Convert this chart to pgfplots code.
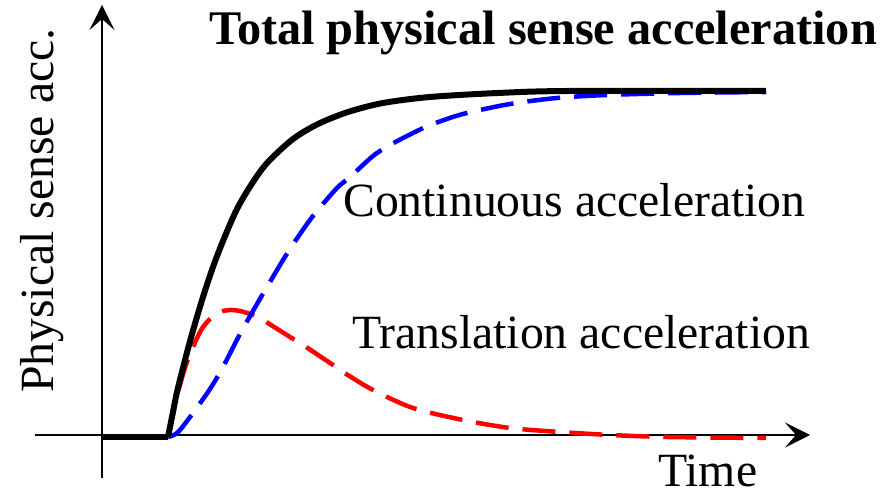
\documentclass[border=0pt]{standalone}
\usepackage{pgfplots}
\pgfplotsset{compat=1.18}
\usepackage{fontspec}
\setmainfont{Liberation Serif}
\usetikzlibrary{arrows.meta}
\begin{document}
\begin{tikzpicture}
\fontsize{47.7bp}{57bp}\selectfont
\begin{axis}[
  x=1bp, y=1bp,
  xmin=-67, xmax=708, ymin=-43, ymax=430,
  axis lines=middle,
  xtick=\empty, ytick=\empty,
  axis line style={line width=2bp, -{Stealth[length=25bp,width=25bp,inset=11bp]}},
  clip=false,
]
% Translation acceleration (red)
\addplot[red, line width=4.5bp, dash pattern=on 33bp off 14bp, smooth, tension=0.5] coordinates {
(66,-2) (71,22) (76,43) (85,73) (98,103) (108,116) (118,123) (128,125) (138,124) (151,120)
(161,115) (188,98) (201,90) (231,70) (241,63) (271,45) (311,27) (361,15) (408,7) (458,3)
(508,0) (566,-2) (664,-3)
};
% Continuous acceleration (blue)
\addplot[blue, line width=4.5bp, dash pattern=on 33bp off 14bp, smooth, tension=0.5] coordinates {
(66,-2) (72,0) (78,5) (91,22) (108,46) (121,68) (138,101) (155,131) (165,148) (186,183)
(205,211) (215,224) (235,247) (248,258) (271,279) (288,290) (315,304) (331,311) (361,321)
(408,331) (455,337) (505,340) (578,342) (664,343)
};
% Total (black)
\addplot[black, line width=6bp] coordinates {
(0,-2) (66,-2)
};
\addplot[black, line width=6bp, smooth, tension=0.5] coordinates {
(66,-2) (70,18) (75,43) (82,71) (90,101) (101,138) (111,168) (121,194) (135,226) (151,253)
(166,273) (191,296) (216,311) (246,323) (281,332) (328,338) (396,342) (466,344) (664,344)
};
\node[anchor=base west, inner sep=0pt, font=\fontsize{48.3bp}{57bp}\bfseries] at (axis cs:107,390) {Total physical sense acceleration};
\node[anchor=base west, inner sep=0pt] at (axis cs:241,218) {Continuous acceleration};
\node[anchor=base west, inner sep=0pt] at (axis cs:250,86) {Translation acceleration};
\node[anchor=base west, inner sep=0pt] at (axis cs:556,-52) {Time};
\node[anchor=base west, inner sep=0pt, rotate=90] at (axis cs:-49,42) {Physical sense acc.};
\coordinate (bbA) at (axis cs:-102,-61);
\coordinate (bbB) at (axis cs:793,435);
\end{axis}
\pgfresetboundingbox
\useasboundingbox (bbA) rectangle (bbB);
\end{tikzpicture}
\end{document}
